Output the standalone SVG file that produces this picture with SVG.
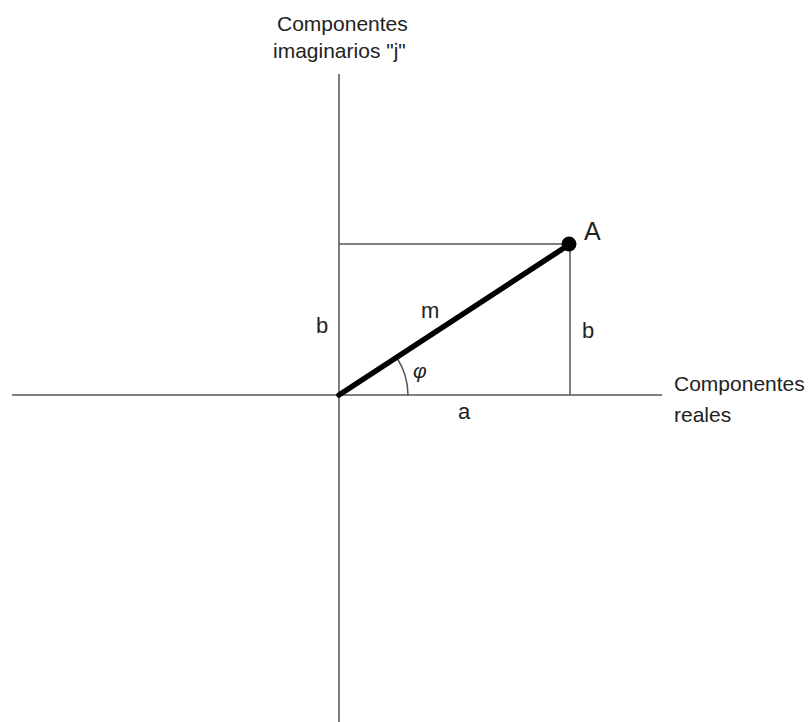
<svg xmlns="http://www.w3.org/2000/svg" width="811" height="722" viewBox="0 0 811 722">
<style>
.ax{stroke:#555;stroke-width:1.5;fill:none}
.t{font-family:"Liberation Sans",Arial,sans-serif;fill:#222}
.lb{font-size:21px}
.v{font-size:22px}
</style>
<rect width="811" height="722" fill="#fff"/>
<g id="connectors">
<line class="ax" x1="339" y1="74" x2="339" y2="722"/>
<line class="ax" x1="12" y1="395" x2="662" y2="395"/>
<line class="ax" x1="339" y1="244" x2="570" y2="244"/>
<line class="ax" x1="570" y1="244" x2="570" y2="395"/>
<path class="ax" d="M408,395 A69,69 0 0 0 397,358"/>
<line x1="339" y1="395" x2="570" y2="244" stroke="#000" stroke-width="5.5" stroke-linecap="round"/>
</g>
<g id="pointA"><circle cx="569" cy="244" r="7.5" fill="#000"/><text class="t" x="584" y="240" font-size="25">A</text></g>
<g id="yaxis-label"><text class="t lb" x="277" y="31">Componentes</text><text class="t lb" x="273" y="58">imaginarios "j"</text></g>
<g id="xaxis-label"><text class="t lb" x="674" y="391">Componentes</text><text class="t lb" x="674" y="422">reales</text></g>
<g id="labels">
<text class="t v" x="421" y="318">m</text>
<text class="t v" x="316" y="333">b</text>
<text class="t v" x="582" y="338">b</text>
<text class="t" x="413" y="378" font-size="21" font-style="italic" font-family="Liberation Serif,serif">φ</text>
<text class="t v" x="458" y="419">a</text>
</g>
</svg>
